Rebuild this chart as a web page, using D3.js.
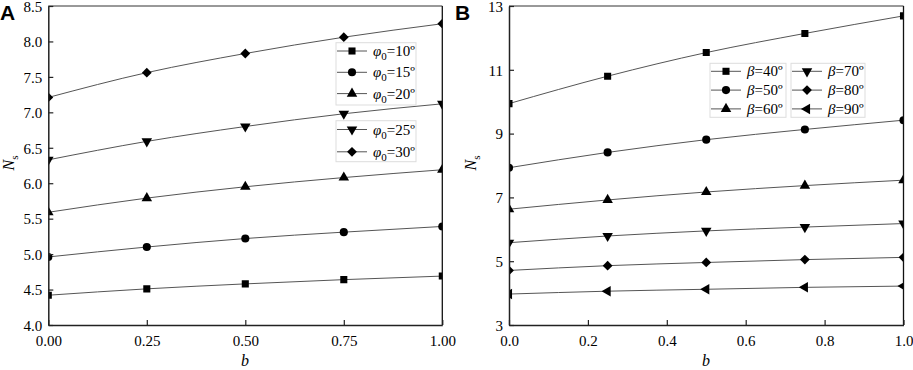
<!DOCTYPE html>
<html><head><meta charset="utf-8">
<script src="https://cdn.jsdelivr.net/npm/d3@7/dist/d3.min.js"></script>
<style>body{margin:0;background:#fff}svg{display:block}</style>
</head><body><svg id="c" width="913" height="370"></svg>
<script>
const bValsA = [0, 0.25, 0.5, 0.75, 1.0];
const phi10 = [4.42, 4.51, 4.58, 4.64, 4.69];
const phi15 = [4.96, 5.10, 5.22, 5.31, 5.39];
const phi20 = [5.59, 5.79, 5.95, 6.08, 6.19];
const phi25 = [6.33, 6.59, 6.80, 6.98, 7.12];
const phi30 = [7.21, 7.56, 7.83, 8.06, 8.25];
const labelsA = ["10º", "15º", "20º", "25º", "30º"];
const xTicksA = [0, 0.25, 0.5, 0.75, 1.0];
const yTicksA = [4.0, 4.5, 5.0, 5.5, 6.0, 6.5, 7.0, 7.5, 8.0, 8.5];

const bValsB = [0, 0.25, 0.5, 0.75, 1.0];
const beta40 = [9.94, 10.80, 11.54, 12.14, 12.69];
const beta50 = [7.93, 8.41, 8.81, 9.13, 9.42];
const beta60 = [6.63, 6.92, 7.17, 7.37, 7.54];
const beta70 = [5.58, 5.79, 5.95, 6.07, 6.18];
const beta80 = [4.71, 4.86, 4.96, 5.05, 5.12];
const beta90 = [3.97, 4.06, 4.12, 4.18, 4.22];
const labelsB = ["40º", "50º", "60º", "70º", "80º", "90º"];
const xTicksB = [0, 0.2, 0.4, 0.6, 0.8, 1.0];
const yTicksB = [3, 5, 7, 9, 11, 13];

const SERIF = "Liberation Serif";
const svg = d3.select("#c");
const markers = {
  square: {type: d3.symbolSquare, size: 50, rot: 0},
  circle: {type: d3.symbolCircle, size: 52, rot: 0},
  up: {type: d3.symbolTriangle, size: 48, rot: 0},
  down: {type: d3.symbolTriangle, size: 48, rot: 180},
  diamond: {type: d3.symbolSquare, size: 48, rot: 45},
  left: {type: d3.symbolTriangle, size: 48, rot: -90}
};
function drawMarker(g, kind, x, y) {
  const m = markers[kind];
  g.append("path").attr("d", d3.symbol().type(m.type).size(m.size)())
    .attr("transform", `translate(${x},${y}) rotate(${m.rot})`).attr("fill", "#000");
}

function panel(cfg) {
  const {x0, x1, y0, y1, xDom, yDom, xTicks, yTicks, xFmt, yFmt, series, id} = cfg;
  const x = d3.scaleLinear().domain(xDom).range([x0, x1]);
  const y = d3.scaleLinear().domain(yDom).range([y1, y0]);
  const g = svg.append("g");
  g.append("clipPath").attr("id", id).append("rect")
    .attr("x", x0).attr("y", y0).attr("width", x1 - x0).attr("height", y1 - y0);
  const plot = g.append("g").attr("clip-path", `url(#${id})`);
  const line = d3.line().x(d => x(d[0])).y(d => y(d[1])).curve(d3.curveMonotoneX);
  series.forEach(s => {
    const pts = s.xs.map((v, i) => [v, s.ys[i]]);
    plot.append("path").attr("d", line(pts)).attr("fill", "none")
      .attr("stroke", "#555").attr("stroke-width", 1);
    pts.forEach(p => drawMarker(plot, s.marker, x(p[0]), y(p[1])));
  });
  g.append("line").attr("x1", x0).attr("x2", x1).attr("y1", y0).attr("y2", y0).attr("stroke", "#333").attr("stroke-width", 1);
  g.append("line").attr("x1", x1).attr("x2", x1).attr("y1", y0).attr("y2", y1).attr("stroke", "#111").attr("stroke-width", 1.3);
  const ax = g.append("g").attr("transform", `translate(0,${y1})`)
    .call(d3.axisBottom(x).tickValues(xTicks).tickFormat(d3.format(xFmt)).tickSizeInner(-5).tickSizeOuter(0).tickPadding(10));
  const ay = g.append("g").attr("transform", `translate(${x0},0)`)
    .call(d3.axisLeft(y).tickValues(yTicks).tickFormat(d3.format(yFmt)).tickSizeInner(-5).tickSizeOuter(0).tickPadding(6));
  [ax, ay].forEach(a => {
    a.attr("font-family", SERIF).attr("font-size", 15);
    a.select(".domain").attr("stroke", "#222").attr("stroke-width", 1.5);
    a.selectAll(".tick line").attr("stroke", "#222").attr("stroke-width", 1.2);
    a.selectAll("text").style("font-size", "15px").style("font-family", SERIF).attr("fill", "#000");
  });
  ax.selectAll("text").attr("dy", "0.71em");
  ay.selectAll("text").attr("dy", "0.35em");
  return {x, y, g};
}

function legendBox(g, bx, by, bw, bh, rows, startY, rowH, prefixItalic, subscript) {
  g.append("rect").attr("x", bx).attr("y", by).attr("width", bw).attr("height", bh)
    .attr("fill", "#fff").attr("stroke", "#ddd").attr("stroke-width", 1);
  rows.forEach((r, i) => {
    const cy = startY + i * rowH;
    g.append("line").attr("x1", bx + 1).attr("x2", bx + 31).attr("y1", cy).attr("y2", cy).attr("stroke", "#555");
    drawMarker(g, r.marker, bx + 16, cy);
    const t = g.append("text").attr("x", bx + 37).attr("y", cy + 5).style("font-size", "15px").style("font-family", SERIF);
    t.append("tspan").text(prefixItalic).style("font-style", "italic");
    if (subscript) t.append("tspan").text(subscript).attr("dy", 4).style("font-size", "11px");
    t.append("tspan").text("=" + r.label).attr("dy", subscript ? -4 : 0);
  });
}

const A = panel({id: "clipA", x0: 48.3, x1: 442.3, y0: 6, y1: 325, xDom: [0, 1], yDom: [4, 8.5],
  xTicks: xTicksA, yTicks: yTicksA, xFmt: ".2f", yFmt: ".1f",
  series: [
    {xs: bValsA, ys: phi10, marker: "square"},
    {xs: bValsA, ys: phi15, marker: "circle"},
    {xs: bValsA, ys: phi20, marker: "up"},
    {xs: bValsA, ys: phi25, marker: "down"},
    {xs: bValsA, ys: phi30, marker: "diamond"}
  ]});
legendBox(A.g, 336, 42.7, 80, 62.3, [
  {marker: "square", label: labelsA[0]}, {marker: "circle", label: labelsA[1]}, {marker: "up", label: labelsA[2]}
], 51, 21.3, "φ", "0");
legendBox(A.g, 336, 120.7, 80, 41, [
  {marker: "down", label: labelsA[3]}, {marker: "diamond", label: labelsA[4]}
], 129.5, 22.3, "φ", "0");

const B = panel({id: "clipB", x0: 509, x1: 903.5, y0: 6, y1: 325, xDom: [0, 1], yDom: [3, 13],
  xTicks: xTicksB, yTicks: yTicksB, xFmt: ".1f", yFmt: "d",
  series: [
    {xs: bValsB, ys: beta40, marker: "square"},
    {xs: bValsB, ys: beta50, marker: "circle"},
    {xs: bValsB, ys: beta60, marker: "up"},
    {xs: bValsB, ys: beta70, marker: "down"},
    {xs: bValsB, ys: beta80, marker: "diamond"},
    {xs: bValsB, ys: beta90, marker: "left"}
  ]});
legendBox(B.g, 710, 63.3, 76, 54, [
  {marker: "square", label: labelsB[0]}, {marker: "circle", label: labelsB[1]}, {marker: "up", label: labelsB[2]}
], 71.3, 18.8, "β", null);
legendBox(B.g, 791, 63.3, 74, 54, [
  {marker: "down", label: labelsB[3]}, {marker: "diamond", label: labelsB[4]}, {marker: "left", label: labelsB[5]}
], 71.3, 18.8, "β", null);

function yTitle(cx, cy) {
  const t = svg.append("text").attr("transform", `translate(${cx},${cy}) rotate(-90)`)
    .attr("text-anchor", "middle").style("font-size", "16px").style("font-family", SERIF);
  t.append("tspan").text("N").style("font-style", "italic");
  t.append("tspan").text("s").attr("dy", 4).style("font-size", "11px");
}
yTitle(14, 163);
yTitle(476, 163);
svg.append("text").attr("x", 245).attr("y", 366).attr("text-anchor", "middle").style("font-size", "16px").style("font-family", SERIF).style("font-style", "italic").text("b");
svg.append("text").attr("x", 706).attr("y", 366).attr("text-anchor", "middle").style("font-size", "16px").style("font-family", SERIF).style("font-style", "italic").text("b");

svg.append("text").attr("x", 0).attr("y", 20).style("font-family", "Liberation Sans").style("font-weight", "bold").style("font-size", "21px").text("A");
svg.append("text").attr("x", 455).attr("y", 20).style("font-family", "Liberation Sans").style("font-weight", "bold").style("font-size", "21px").text("B");
</script></body></html>
